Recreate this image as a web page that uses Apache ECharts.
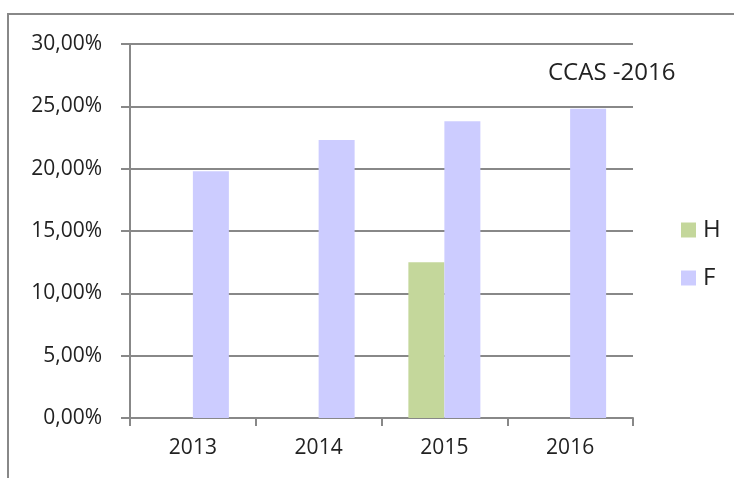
<!DOCTYPE html>
<html>
<head>
<meta charset="utf-8">
<script src="https://cdn.jsdelivr.net/npm/echarts@6/dist/echarts.min.js"></script>
<style>
  html, body { margin: 0; padding: 0; background: #fff; }
  #chart { width: 734px; height: 478px; }
</style>
</head>
<body>
<div id="chart"></div>
<script>
// data
var years = ['2013', '2014', '2015', '2016'];
var seriesH = [null, null, 12.5, null];
var seriesF = [19.8, 22.3, 23.8, 24.8];
var yTicks = [0, 5, 10, 15, 20, 25, 30];

var font = 'Open Sans';
var gridColor = '#888';
var textColor = '#222';

var chart = echarts.init(document.getElementById('chart'));

// 0,00% style labels (comma decimal)
var pct = function (v) {
    return v.toFixed(2).replace('.', ',') + '%';
};

chart.setOption({
    animation: false,
    textStyle: { fontFamily: font },
    graphic: [{
        type: 'rect',
        shape: { x: 8, y: 14, width: 760, height: 500 },
        style: { fill: 'none', stroke: '#888', lineWidth: 2 },
        silent: true
    }],
    title: {
        text: 'CCAS -2016',
        left: 543,
        top: 56,
        textStyle: { fontFamily: font, fontWeight: 'normal', fontSize: 24, color: textColor }
    },
    legend: {
        orient: 'vertical',
        left: 676,
        top: 213,
        itemWidth: 15,
        itemHeight: 15,
        itemGap: 24,
        icon: 'rect',
        textStyle: { fontFamily: font, fontSize: 24, color: textColor, padding: [0, 0, 0, 2] },
        data: ['H', 'F']
    },
    grid: { left: 130, right: 101, top: 44, bottom: 60 },
    xAxis: {
        type: 'category',
        data: years,
        axisLine: { lineStyle: { color: gridColor, width: 2 } },
        axisTick: { show: true, length: 8, lineStyle: { color: gridColor, width: 2 } },
        axisLabel: { fontFamily: font, fontSize: 21, color: textColor, margin: 20 }
    },
    yAxis: {
        type: 'value',
        min: yTicks[0],
        max: yTicks[yTicks.length - 1],
        interval: 5,
        axisLine: { show: true, lineStyle: { color: gridColor, width: 2 } },
        axisTick: { show: true, length: 9, lineStyle: { color: gridColor, width: 2 } },
        splitLine: { lineStyle: { color: gridColor, width: 2 } },
        axisLabel: { formatter: pct, fontFamily: font, fontSize: 21, color: textColor, margin: 28 }
    },
    series: [{
        name: 'H',
        type: 'bar',
        data: seriesH,
        barWidth: 36,
        barGap: '0%',
        itemStyle: { color: '#c4d79b' }
    }, {
        name: 'F',
        type: 'bar',
        data: seriesF,
        barWidth: 36,
        barGap: '0%',
        itemStyle: { color: '#ccccff' }
    }]
});
</script>
</body>
</html>
